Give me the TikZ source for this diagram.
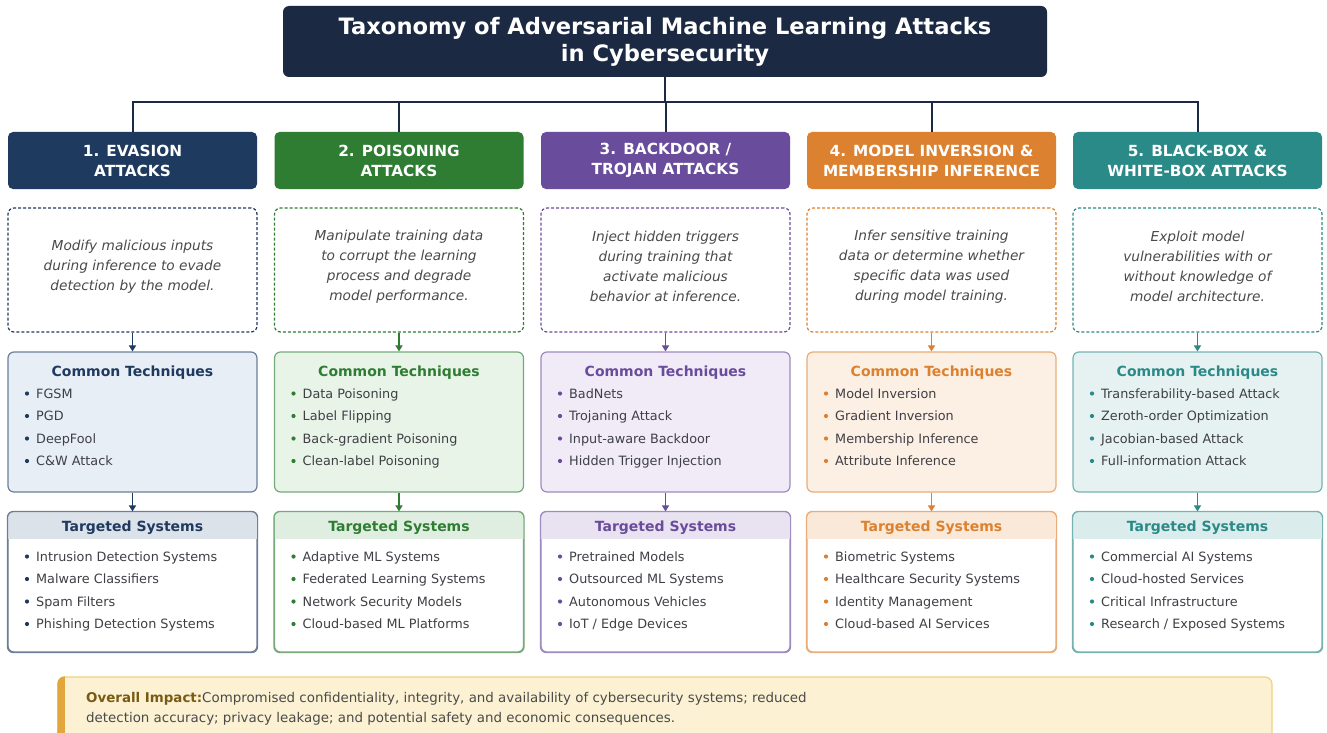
\documentclass[tikz,border=0pt]{standalone}
\usepackage{fontspec}
\setmainfont{DejaVu Sans}
\usetikzlibrary{arrows.meta}

\definecolor{navy}{HTML}{1B2942}
\definecolor{bodytxt}{HTML}{3F3F46}
\definecolor{desctxt}{HTML}{4A4A4A}
% column palettes: main colour, box fill, header band
\definecolor{cA}{HTML}{1F3A5F}\definecolor{cAfill}{HTML}{E8EEF6}\definecolor{cAband}{HTML}{DCE2EA}
\definecolor{cB}{HTML}{2E7D32}\definecolor{cBfill}{HTML}{E8F4E8}\definecolor{cBband}{HTML}{DFEEE0}
\definecolor{cC}{HTML}{6A4C9C}\definecolor{cCfill}{HTML}{F0EBF7}\definecolor{cCband}{HTML}{E8E2F1}
\definecolor{cD}{HTML}{DC812F}\definecolor{cDfill}{HTML}{FCEFE3}\definecolor{cDband}{HTML}{FAE8D8}
\definecolor{cE}{HTML}{2A8A87}\definecolor{cEfill}{HTML}{E6F2F2}\definecolor{cEband}{HTML}{DAECEB}
\definecolor{impfill}{HTML}{FCF2D3}
\definecolor{impborder}{HTML}{EDD27F}
\definecolor{impbar}{HTML}{E2A73C}
\definecolor{imptitle}{HTML}{7A5A12}

\tikzset{
  titlebox/.style={fill=navy, rounded corners=6pt, minimum width=764pt, minimum height=71pt,
    inner sep=0pt, align=center, text=white, font=\bfseries\fontsize{22.6}{27}\selectfont},
  hdrbox/.style={rounded corners=5pt, minimum width=249pt, minimum height=57pt, inner sep=0pt,
    align=center, text=white, font=\bfseries\fontsize{15.3}{20}\selectfont},
  descbox/.style={draw, dashed, dash pattern=on 3pt off 2pt, line width=1.2pt, fill=white,
    rounded corners=6pt, minimum width=249pt, minimum height=124pt, inner sep=0pt},
  desctext/.style={align=center, inner sep=0pt, text=desctxt, font=\itshape\fontsize{13.7}{20}\selectfont},
  listbox/.style={draw, line width=1.2pt, rounded corners=6pt, minimum width=249pt,
    minimum height=140pt, inner sep=0pt},
  boxtitle/.style={anchor=base, font=\bfseries\fontsize{14}{16}\selectfont, inner sep=0pt},
  itemtxt/.style={anchor=base west, inner sep=0pt, text=bodytxt, font=\fontsize{12.8}{15}\selectfont},
  imptxt/.style={anchor=base west, inner sep=0pt, text=desctxt, font=\fontsize{13.4}{20}\selectfont},
  conn/.style={draw=navy, line width=2pt},
  flow/.style={line width=1.6pt, -{Triangle[length=6pt,width=7pt]}},
}

% one attack column: index, palette, x centre, header, description
\newcommand{\attackcol}[5]{%
  \node[hdrbox, fill=#2] (h#1) at (#3,160.5) {#4};
  \node[descbox, draw=#2] (d#1) at (#3,270) {};
  \node[desctext] (dt#1) at (#3,266.5) {#5};
  \node[listbox, draw=#2!65, fill=#2fill] (t#1) at (#3,422) {};
  \node[boxtitle, text=#2] (tt#1) at (#3,376) {Common Techniques};
  \node[listbox, draw=#2!65, fill=white] (s#1) at (#3,582) {};
  \begin{scope}
    \clip[rounded corners=6pt] ([xshift=0.6pt,yshift=-0.6pt]s#1.north west) rectangle ([xshift=-0.6pt]s#1.south east);
    \fill[#2band] (s#1.north west) rectangle ([yshift=-28pt]s#1.north east);
  \end{scope}
  \draw[draw=#2!65, line width=1.2pt, rounded corners=6pt] (s#1.north west) rectangle (s#1.south east);
  \node[boxtitle, text=#2] (st#1) at (#3,531) {Targeted Systems};
  \draw[flow, draw=#2, fill=#2] (d#1.south) -- (t#1.north);
  \draw[flow, draw=#2, fill=#2] (t#1.south) -- (s#1.north);
  \draw[conn] (h#1.north) |- (bus);
}

% four bulleted entries: palette, x centre, first baseline, entries, name prefix
\newcommand{\bullets}[5]{%
  \foreach \txt [count=\k] in {#4} {
    \fill[#1] (#2-105.5, #3+22.5*\k-27) circle (2.1pt);
    \node[itemtxt] (#5\k) at (#2-96.5, #3+22.5*\k-22.5) {\txt};
  }
}

\begin{document}
\begin{tikzpicture}[x=1pt, y=-1pt]
\useasboundingbox (0,0) rectangle (1327,733);
\clip (0,0) rectangle (1327,733);
\fill[white] (0,0) rectangle (1327,733);

\node[titlebox] (title) at (665,41.5) {Taxonomy of Adversarial Machine Learning Attacks\\in Cybersecurity};
\coordinate (bus) at (665,102);
\draw[conn] (title.south) -- (bus);

\attackcol{1}{cA}{132.5}{1. EVASION\\ATTACKS}{Modify malicious inputs\\during inference to evade\\detection by the model.}
\attackcol{2}{cB}{399}{2. POISONING\\ATTACKS}{Manipulate training data\\to corrupt the learning\\process and degrade\\model performance.}
\attackcol{3}{cC}{665.5}{3. BACKDOOR /\\TROJAN ATTACKS}{Inject hidden triggers\\during training that\\activate malicious\\behavior at inference.}
\attackcol{4}{cD}{931.5}{4. MODEL INVERSION \&\\MEMBERSHIP INFERENCE}{Infer sensitive training\\data or determine whether\\specific data was used\\during model training.}
\attackcol{5}{cE}{1197.5}{5. BLACK-BOX \&\\WHITE-BOX ATTACKS}{Exploit model\\vulnerabilities with or\\without knowledge of\\model architecture.}

\bullets{cA}{132.5}{398}{FGSM, PGD, DeepFool, C\&W Attack}{ta}
\bullets{cB}{399}{398}{Data Poisoning, Label Flipping, Back-gradient Poisoning, Clean-label Poisoning}{tb}
\bullets{cC}{665.5}{398}{BadNets, Trojaning Attack, Input-aware Backdoor, Hidden Trigger Injection}{tc}
\bullets{cD}{931.5}{398}{Model Inversion, Gradient Inversion, Membership Inference, Attribute Inference}{td}
\bullets{cE}{1197.5}{398}{Transferability-based Attack, Zeroth-order Optimization, Jacobian-based Attack, Full-information Attack}{te}

\bullets{cA}{132.5}{561}{Intrusion Detection Systems, Malware Classifiers, Spam Filters, Phishing Detection Systems}{sa}
\bullets{cB}{399}{561}{Adaptive ML Systems, Federated Learning Systems, Network Security Models, Cloud-based ML Platforms}{sb}
\bullets{cC}{665.5}{561}{Pretrained Models, Outsourced ML Systems, Autonomous Vehicles, IoT / Edge Devices}{sc}
\bullets{cD}{931.5}{561}{Biometric Systems, Healthcare Security Systems, Identity Management, Cloud-based AI Services}{sd}
\bullets{cE}{1197.5}{561}{Commercial AI Systems, Cloud-hosted Services, Critical Infrastructure, Research / Exposed Systems}{se}

% overall impact banner
\node[fill=impfill, draw=impborder, line width=1.2pt, rounded corners=7pt, minimum width=1214pt,
  minimum height=72pt, inner sep=0pt] (impact) at (665,713) {};
\begin{scope}
  \clip[rounded corners=7pt] (impact.north west) rectangle (impact.south east);
  \fill[impbar] (impact.north west) rectangle ([xshift=8pt]impact.south west);
\end{scope}
\node[imptxt] (imp1) at (86,702) {\textcolor{imptitle}{\bfseries Overall Impact:}Compromised confidentiality, integrity, and availability of cybersecurity systems; reduced};
\node[imptxt] (imp2) at (86,722) {detection accuracy; privacy leakage; and potential safety and economic consequences.};
\end{tikzpicture}
\end{document}
